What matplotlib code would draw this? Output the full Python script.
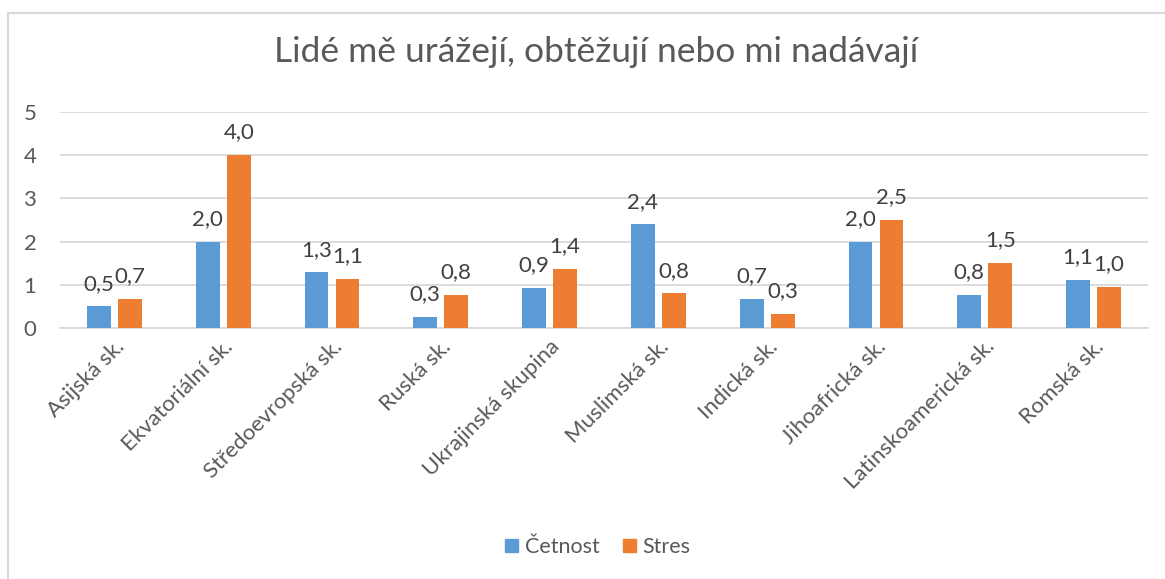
import numpy as np
import matplotlib
matplotlib.use("Agg")
import matplotlib.pyplot as plt
from matplotlib.patches import Rectangle, Patch

plt.rcParams['font.family'] = ['Lato', 'DejaVu Sans']

# DATA
categories = ['Asijská sk.', 'Ekvatoriální sk.', 'Středoevropská sk.', 'Ruská sk.',
              'Ukrajinská skupina', 'Muslimská sk.', 'Indická sk.', 'Jihoafrická sk.',
              'Latinskoamerická sk.', 'Romská sk.']
cetnost = [0.5, 2.0, 1.29, 0.26, 0.93, 2.4, 0.67, 2.0, 0.76, 1.12]
stres = [0.67, 4.0, 1.14, 0.76, 1.36, 0.8, 0.33, 2.5, 1.5, 0.96]
series_names = ['Četnost', 'Stres']
yticks = [0, 1, 2, 3, 4, 5]

blue = '#5b9bd5'
orange = '#ed7d31'
text_col = '#595959'

fig = plt.figure(figsize=(11.65, 5.79), dpi=100)
ax = fig.add_axes([60/1165, 1-328/579, (1148-60)/1165, (328-112)/579])

# light chart border like the office export
fig.patches.append(Rectangle((8/1165, -0.1), 1.2, 1.1-13/579, transform=fig.transFigure,
                             fill=False, edgecolor='#d9d9d9', lw=1.5))

x = np.arange(len(categories))
w = 0.22
off = 0.1425
b1 = ax.bar(x - off, cetnost, w, color=blue, zorder=3)
b2 = ax.bar(x + off, stres, w, color=orange, zorder=3)

for bars, vals in [(b1, cetnost), (b2, stres)]:
    for bar, v in zip(bars, vals):
        ax.annotate(f'{v:.1f}'.replace('.', ','), (bar.get_x() + bar.get_width()/2, v),
                    xytext=(0, 12), textcoords='offset points', ha='center', va='baseline',
                    fontsize=16, color='#404040')

ax.set_xlim(-0.5, len(categories) - 0.5)
ax.set_ylim(0, 5)
ax.set_yticks(yticks)
ax.set_yticklabels([str(t) for t in yticks])
ax.yaxis.grid(True, color='#d9d9d9', lw=1.3, zorder=0)
ax.set_axisbelow(True)
for s in ['top', 'right', 'left']:
    ax.spines[s].set_visible(False)
ax.spines['bottom'].set_color('#d9d9d9')
ax.spines['bottom'].set_linewidth(1.3)
ax.tick_params(axis='both', length=0, labelsize=16, labelcolor=text_col)
ax.tick_params(axis='y', pad=17)
ax.set_xticks(x)
ax.set_xticklabels(categories, rotation=45, ha='right', rotation_mode='anchor')
ax.tick_params(axis='x', pad=6)

fig.text(596/1165, 1-62/579, 'Lidé mě urážejí, obtěžují nebo mi nadávají', ha='center',
         va='baseline', fontsize=25.5, color=text_col)

handles = [Patch(color=blue), Patch(color=orange)]
fig.legend(handles, series_names, loc='center', bbox_to_anchor=(598/1165, 1-547/579),
           ncol=2, frameon=False, fontsize=15.5, handlelength=0.6, handleheight=0.6,
           handletextpad=0.3, columnspacing=1.1, labelcolor=text_col)

fig.savefig('out.png', dpi=100)
